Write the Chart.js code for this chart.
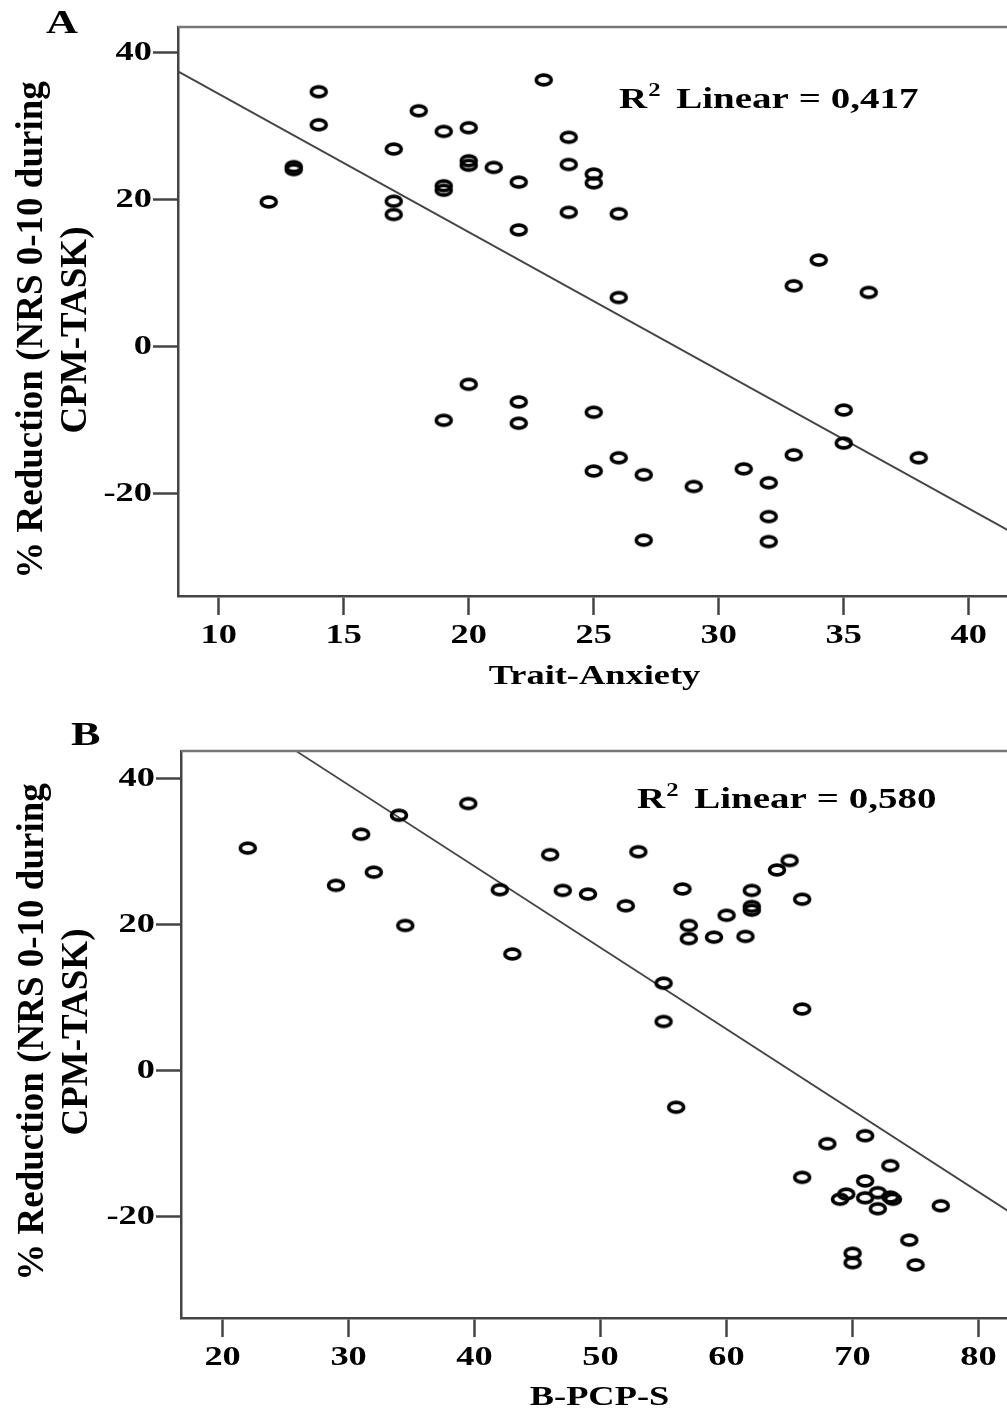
<!DOCTYPE html>
<html><head><meta charset="utf-8">
<script src="https://cdn.jsdelivr.net/npm/chart.js@4.4.0/dist/chart.umd.min.js"></script>
<style>
html,body{margin:0;padding:0;background:#fff;overflow:hidden;width:1007px;height:1414px;}
#wrap{position:relative;width:1007px;height:1414px;overflow:hidden;background:#fff;}
canvas{position:absolute;left:0;}
#cA{top:0;}
#cB{top:700px;}
</style></head><body>
<div id="wrap"><canvas id="cA" width="1020" height="700"></canvas><canvas id="cB" width="1030" height="714"></canvas></div>
<script>
// ---- Panel A data: Trait-Anxiety vs % Reduction ----
const traitAnxiety = [12,13,13,14,14,17,17,17,18,19,19,19,20,20,20,21,22,22,23,24,24,24,25,25,26,26,33,34,36,
  20,19,22,22,25,25,26,27,27,29,31,32,32,32,33,35,35,38];
const reductionA = [19.7,24.5,24.1,34.7,30.2,26.9,19.8,18.0,32.1,29.3,21.9,21.3,29.8,25.3,24.7,24.4,22.4,15.9,36.3,28.5,24.8,18.3,23.5,22.3,18.1,6.7,8.3,11.8,7.4,
  -5.1,-10.0,-7.5,-10.4,-8.9,-16.9,-15.1,-17.4,-26.3,-19.0,-16.6,-18.5,-23.1,-26.5,-14.7,-8.6,-13.1,-15.1];
// ---- Panel B data: B-PCP-S vs % Reduction ----
const bpcps = [22,31,34,29,32,34.5,39.5,42,43,46,47,49,52,53,55,55,56.5,57,57,59,60,61.5,62,62,62,64,65,66,66,
  56,68,71,73,66,71,69,69.5,71,72,72,73,73.2,77,74.5,70,70,75];
const reductionB = [30.5,32.4,35.0,25.4,27.2,19.9,36.6,24.8,16.0,29.6,24.7,24.2,22.6,30.0,12.0,6.75,24.9,19.9,18.1,18.3,21.3,18.4,24.7,22.5,22.0,27.5,28.8,23.5,8.45,
  -5.0,-10.0,-8.9,-13.0,-14.6,-15.1,-17.6,-16.9,-17.4,-16.7,-18.9,-17.3,-17.6,-18.5,-23.2,-25.0,-26.3,-26.6];
// ---- Fit lines ----
const fitAx = [8.37, 41.69];
const fitAy = [37.46, -25.18];
const fitBx = [25.87, 83.13];
const fitBy = [43.75, -20.09];
// ---- Ticks ----
const xTicksA = [10,15,20,25,30,35,40];
const xTicksB = [20,30,40,50,60,70,80];
const yTicks = [-20,0,20,40];
const r2Labels = ['0,417','0,580'];
const yTitleLines = ['% Reduction (NRS 0-10 during','CPM-TASK)'];

const FONT = '"Liberation Serif", "Times New Roman", serif';
const STRETCH = 1.3;

function patchCtx(ctx){
  const orig = ctx.fillText.bind(ctx);
  ctx.fillText = function(text, x, y, maxWidth){
    const m = ctx.getTransform();
    if (Math.abs(m.b) > 1e-6) {
      return maxWidth === undefined ? orig(text, x, y) : orig(text, x, y, maxWidth);
    }
    ctx.save();
    ctx.translate(x, y);
    ctx.scale(STRETCH, 1);
    if (maxWidth === undefined) orig(text, 0, 0); else orig(text, 0, 0, maxWidth / STRETCH);
    ctx.restore();
  };
}

function ringImage(){
  const c = document.createElement('canvas');
  c.width = 24; c.height = 18;
  const g = c.getContext('2d');
  g.lineWidth = 3.6; g.strokeStyle = '#000';
  g.beginPath(); g.ellipse(12, 9, 7.5, 4.9, 0, 0, Math.PI * 2); g.stroke();
  return c;
}
const ring = ringImage();

const framePlugin = {
  id: 'frame',
  afterDraw(chart){
    const {ctx, chartArea: a} = chart;
    ctx.save();
    ctx.strokeStyle = '#777'; ctx.lineWidth = 2.5;
    ctx.beginPath(); ctx.moveTo(a.left, a.top); ctx.lineTo(a.right, a.top); ctx.lineTo(a.right, a.bottom); ctx.stroke();
    ctx.restore();
  }
};

const textPlugin = {
  id: 'panelText',
  afterDraw(chart, args, o){
    const {ctx, chartArea: a} = chart;
    ctx.save();
    ctx.fillStyle = '#000';
    // panel letter
    ctx.font = 'bold ' + o.letterSize + 'px ' + FONT;
    ctx.textAlign = 'left'; ctx.textBaseline = 'alphabetic';
    ctx.fillText(o.letter, o.letterX, o.letterY);
    // R^2 annotation
    let x = a.left + o.r2dx, y = a.top + o.r2dy;
    ctx.font = 'bold 30px ' + FONT;
    ctx.fillText('R', x, y);
    x += ctx.measureText('R').width * STRETCH + 1;
    ctx.font = 'bold 19px ' + FONT;
    ctx.fillText('2', x, y - 12);
    x += ctx.measureText('2').width * STRETCH + 6;
    ctx.font = 'bold 30px ' + FONT;
    ctx.fillText(' Linear = ' + o.r2, x, y);
    // y-axis title, two rotated lines
    ctx.font = 'bold 37px ' + FONT;
    ctx.textAlign = 'center';
    o.yBase.forEach((bx, i) => {
      ctx.save();
      ctx.translate(bx, o.yCenter);
      ctx.rotate(-Math.PI / 2);
      ctx.fillText(yTitleLines[i], 0, 0);
      ctx.restore();
    });
    ctx.restore();
  }
};

function makeChart(id, xs, ys, lx, ly, xTicks, cfg){
  const canvas = document.getElementById(id);
  const ctx = canvas.getContext('2d');
  patchCtx(ctx);
  return new Chart(ctx, {
    type: 'scatter',
    data: { datasets: [
      { data: xs.map((v, i) => ({x: v, y: ys[i]})), pointStyle: ring, pointRadius: 8, borderColor: '#000', backgroundColor: 'rgba(0,0,0,0)', order: 1 },
      { data: lx.map((v, i) => ({x: v, y: ly[i]})), showLine: true, pointRadius: 0, borderColor: '#444', borderWidth: 1.8, fill: false, order: 2 }
    ]},
    options: {
      responsive: false, animation: false, events: [], devicePixelRatio: 1,
      layout: { padding: cfg.padding },
      plugins: { legend: {display: false}, tooltip: {enabled: false}, panelText: cfg.text },
      scales: {
        x: {
          type: 'linear', min: cfg.xmin, max: cfg.xmax,
          afterBuildTicks: s => { s.ticks = xTicks.map(v => ({value: v})); },
          afterFit: s => { s.height = cfg.xh; },
          grid: { display: true, drawOnChartArea: false, drawTicks: true, tickLength: 19, tickWidth: 2.5, tickColor: '#444' },
          border: { display: true, color: '#444', width: 2.5 },
          ticks: { color: '#000', font: {family: FONT, weight: 'bold', size: 28}, padding: 4, autoSkip: false, maxRotation: 0, minRotation: 0 },
          title: { display: true, text: cfg.xtitle, color: '#000', font: {family: FONT, weight: 'bold', size: 28, lineHeight: 1}, padding: {top: 0, bottom: cfg.xtPad} }
        },
        y: {
          type: 'linear', min: cfg.ymin, max: cfg.ymax,
          afterBuildTicks: s => { s.ticks = yTicks.map(v => ({value: v})); },
          afterFit: s => { s.width = cfg.yw; },
          grid: { display: true, drawOnChartArea: false, drawTicks: true, tickLength: 25, tickWidth: 2.5, tickColor: '#444' },
          border: { display: true, color: '#444', width: 2.5 },
          ticks: { color: '#000', font: {family: FONT, weight: 'bold', size: 28}, padding: 1, autoSkip: false }
        }
      }
    },
    plugins: [framePlugin, textPlugin]
  });
}

makeChart('cA', traitAnxiety, reductionA, fitAx, fitAy, xTicksA, {
  padding: {top: 27, right: 9, left: 0, bottom: 0},
  xmin: 8.37, xmax: 41.69, ymin: -33.9, ymax: 43.5, xh: 104, yw: 178,
  xtitle: 'Trait-Anxiety', xtPad: 9,
  text: { letter: 'A', letterSize: 34, letterX: 46, letterY: 33, r2: r2Labels[0], r2dx: 441, r2dy: 81, yBase: [42, 86], yCenter: 330 }
});
makeChart('cB', bpcps, reductionB, fitBx, fitBy, xTicksB, {
  padding: {top: 51, right: 12, left: 0, bottom: 0},
  xmin: 16.7, xmax: 83.13, ymin: -33.87, ymax: 43.8, xh: 96, yw: 181,
  xtitle: 'B-PCP-S', xtPad: 2,
  text: { letter: 'B', letterSize: 34, letterX: 71, letterY: 45, r2: r2Labels[1], r2dx: 456, r2dy: 57, yBase: [43, 87], yCenter: 332 }
});
</script>
</body></html>
